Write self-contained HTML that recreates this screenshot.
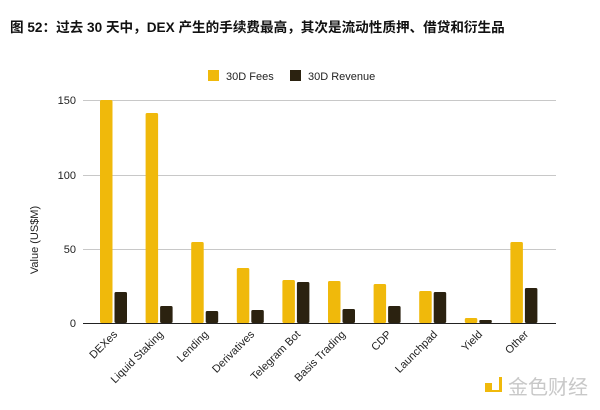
<!DOCTYPE html>
<html><head><meta charset="utf-8"><style>
html,body{margin:0;padding:0;background:#fff;}
svg{display:block;font-family:"Liberation Sans","Noto Sans CJK SC",sans-serif;}
</style></head><body>
<svg width="600" height="410" viewBox="0 0 600 410" xmlns="http://www.w3.org/2000/svg">
<text x="10" y="32" font-size="13.6" font-weight="bold" fill="#111">图 52：过去 30 天中，DEX 产生的手续费最高，其次是流动性质押、借贷和衍生品</text>
<rect x="208" y="70" width="11" height="11" fill="#F0B90B"/>
<text x="226" y="80" font-size="11" fill="#222">30D Fees</text>
<rect x="290" y="70" width="11" height="11" fill="#2B2210"/>
<text x="308" y="80" font-size="11" fill="#222">30D Revenue</text>
<g stroke="#c8c8c8" stroke-width="1">
<line x1="83" y1="100.5" x2="556" y2="100.5"/>
<line x1="83" y1="175.5" x2="556" y2="175.5"/>
<line x1="83" y1="249.5" x2="556" y2="249.5"/>
</g>
<g font-size="11" fill="#222" text-anchor="end">
<text x="76" y="104">150</text>
<text x="76" y="179">100</text>
<text x="76" y="253">50</text>
<text x="76" y="327">0</text>
</g>
<text transform="translate(38,240) rotate(-90)" font-size="11" fill="#222" text-anchor="middle">Value (US$M)</text>
<g fill="#F0B90B">
<rect x="100" y="100" width="12.5" height="223" rx="1.5"/>
<rect x="145.6" y="113" width="12.5" height="210" rx="1.5"/>
<rect x="191.2" y="242" width="12.5" height="81" rx="1.5"/>
<rect x="236.8" y="268" width="12.5" height="55" rx="1.5"/>
<rect x="282.4" y="280" width="12.5" height="43" rx="1.5"/>
<rect x="328" y="281" width="12.5" height="42" rx="1.5"/>
<rect x="373.6" y="284" width="12.5" height="39" rx="1.5"/>
<rect x="419.2" y="291" width="12.5" height="32" rx="1.5"/>
<rect x="464.8" y="318" width="12.5" height="5" rx="1.5"/>
<rect x="510.4" y="242" width="12.5" height="81" rx="1.5"/>
</g>
<g fill="#2B2210">
<rect x="114.5" y="292" width="12.5" height="31" rx="1.5"/>
<rect x="160.1" y="306" width="12.5" height="17" rx="1.5"/>
<rect x="205.7" y="311" width="12.5" height="12" rx="1.5"/>
<rect x="251.3" y="310" width="12.5" height="13" rx="1.5"/>
<rect x="296.9" y="282" width="12.5" height="41" rx="1.5"/>
<rect x="342.5" y="309" width="12.5" height="14" rx="1.5"/>
<rect x="388.1" y="306" width="12.5" height="17" rx="1.5"/>
<rect x="433.7" y="292" width="12.5" height="31" rx="1.5"/>
<rect x="479.3" y="320" width="12.5" height="3" rx="1"/>
<rect x="524.9" y="288" width="12.5" height="35" rx="1.5"/>
</g>
<line x1="83" y1="323.5" x2="556" y2="323.5" stroke="#222" stroke-width="1"/>
<g font-size="11" fill="#222" text-anchor="end">
<text transform="translate(118,335) rotate(-45)">DEXes</text>
<text transform="translate(164,335) rotate(-45)">Liquid Staking</text>
<text transform="translate(209,335) rotate(-45)">Lending</text>
<text transform="translate(255,335) rotate(-45)">Derivatives</text>
<text transform="translate(301,335) rotate(-45)">Telegram Bot</text>
<text transform="translate(346,335) rotate(-45)">Basis Trading</text>
<text transform="translate(392,335) rotate(-45)">CDP</text>
<text transform="translate(438,335) rotate(-45)">Launchpad</text>
<text transform="translate(483,335) rotate(-45)">Yield</text>
<text transform="translate(529,335) rotate(-45)">Other</text>
</g>
<g>
<rect x="485" y="383" width="7" height="7" fill="#F0B90B"/>
<path d="M494 377 h5 v13 h-14 v2 h17 v-15 z" fill="#F0B90B"/>
<text x="508" y="394" font-size="20" fill="#c8c8c8" font-family="'Noto Sans CJK SC',sans-serif">金色财经</text>
</g>
</svg>
</body></html>
